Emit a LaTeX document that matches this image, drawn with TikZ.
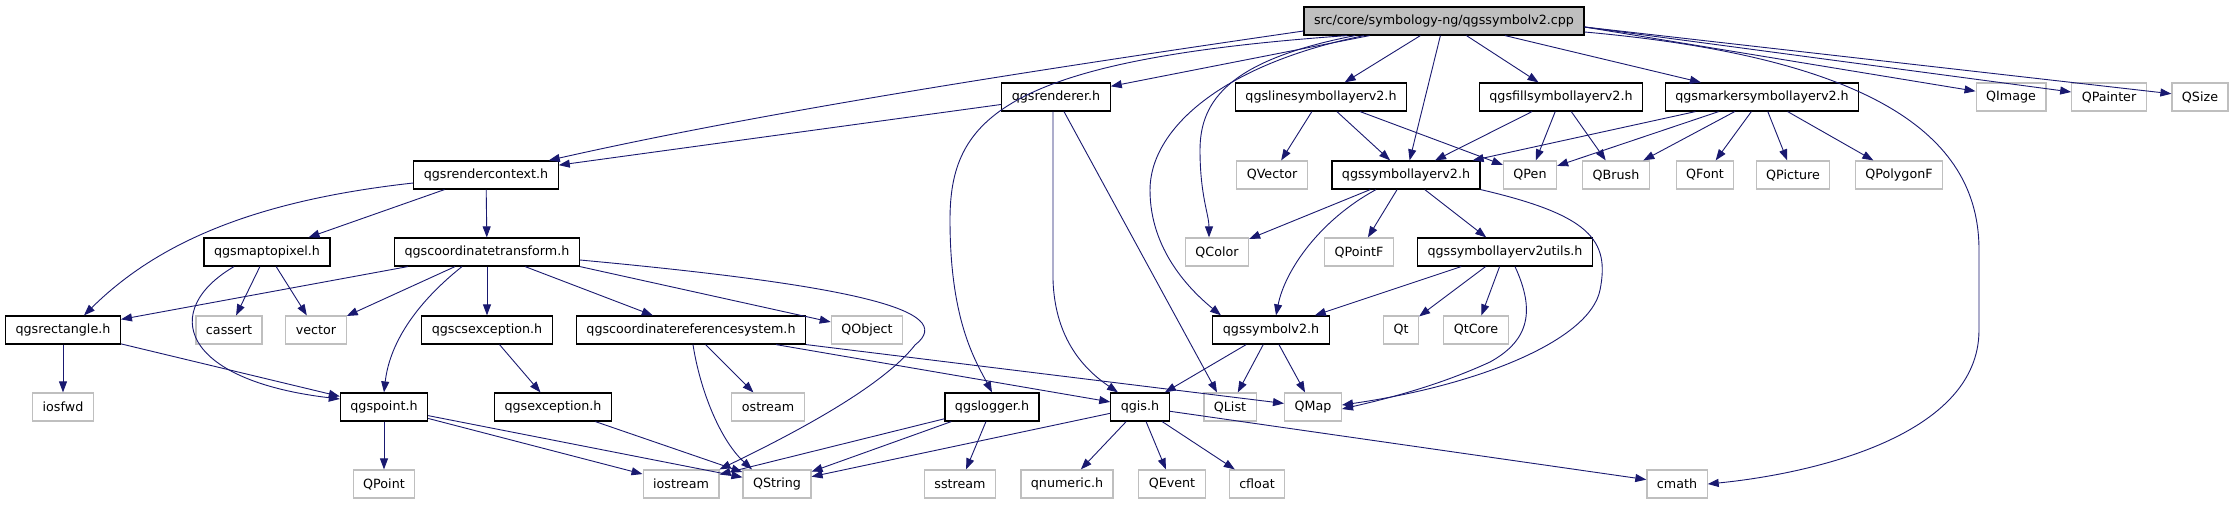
\documentclass[tikz,border=0pt]{standalone}
\usepackage{fontspec}
\setmainfont{DejaVu Sans}
\usepackage{xcolor}
\usepackage{tikz}
\usetikzlibrary{arrows.meta}
\definecolor{edgeblue}{RGB}{25, 25, 112}
\definecolor{extgray}{RGB}{191, 191, 191}

\begin{document}
\begin{tikzpicture}[x=1pt, y=-1pt,
    every node/.style={font=\fontsize{12.7}{14}\selectfont, minimum height=28pt, inner xsep=10pt, inner ysep=0pt},
    rootnode/.style={draw=black, line width=1.2pt, fill=extgray},
    docnode/.style={draw=black, line width=1.2pt, fill=white},
    extnode/.style={draw=extgray, line width=1.2pt, fill=white},
    dep/.style={draw=edgeblue, line width=0.9pt, -{Triangle[length=11pt, width=8pt]}}]
    \fill[white] (0,0) rectangle (2235,504);
    \useasboundingbox (0,0) rectangle (2235,504);

    % Row 1
    \node[rootnode] (cpp) at (1444,21) {src/core/symbology-ng/qgssymbolv2.cpp};

    % Row 2
    \node[docnode] (renderer) at (1056,97) {qgsrenderer.h};
    \node[docnode] (linesl) at (1321,97) {qgslinesymbollayerv2.h};
    \node[docnode] (fillsl) at (1561,97) {qgsfillsymbollayerv2.h};
    \node[docnode] (markersl) at (1762,97) {qgsmarkersymbollayerv2.h};
    \node[extnode] (qimage) at (2011,97) {QImage};
    \node[extnode] (qpainter) at (2109,97) {QPainter};
    \node[extnode] (qsize) at (2200,97) {QSize};

    % Row 3
    \node[docnode] (renderctx) at (486,175) {qgsrendercontext.h};
    \node[extnode] (qvector) at (1272,175) {QVector};
    \node[docnode] (symlayer) at (1406,175) {qgssymbollayerv2.h};
    \node[extnode] (qpen) at (1530,175) {QPen};
    \node[extnode] (qbrush) at (1616,175) {QBrush};
    \node[extnode] (qfont) at (1705,175) {QFont};
    \node[extnode] (qpicture) at (1793,175) {QPicture};
    \node[extnode] (qpolygonf) at (1899,175) {QPolygonF};

    % Row 4
    \node[docnode] (maptopixel) at (267,252) {qgsmaptopixel.h};
    \node[docnode] (coordtf) at (487,252) {qgscoordinatetransform.h};
    \node[extnode] (qcolor) at (1217,252) {QColor};
    \node[extnode] (qpointf) at (1359,252) {QPointF};
    \node[docnode] (symutils) at (1505,252) {qgssymbollayerv2utils.h};

    % Row 5
    \node[docnode] (rect) at (63,330) {qgsrectangle.h};
    \node[extnode] (cassert) at (229,330) {cassert};
    \node[extnode] (vector) at (316,330) {vector};
    \node[docnode] (csexc) at (487,330) {qgscsexception.h};
    \node[docnode] (crs) at (691,330) {qgscoordinatereferencesystem.h};
    \node[extnode] (qobject) at (867,330) {QObject};
    \node[docnode] (symbolv2) at (1271,330) {qgssymbolv2.h};
    \node[extnode] (qt) at (1401,330) {Qt};
    \node[extnode] (qtcore) at (1476,330) {QtCore};

    % Row 6
    \node[extnode] (iosfwd) at (63,407) {iosfwd};
    \node[docnode] (point) at (384,407) {qgspoint.h};
    \node[docnode] (exception) at (553,407) {qgsexception.h};
    \node[extnode] (ostream) at (768,407) {ostream};
    \node[docnode] (logger) at (992,407) {qgslogger.h};
    \node[docnode] (qgis) at (1140,407) {qgis.h};
    \node[extnode] (qlist) at (1230,407) {QList};
    \node[extnode] (qmap) at (1313,407) {QMap};

    % Row 7
    \node[extnode] (qpoint) at (384,484) {QPoint};
    \node[extnode] (iostream) at (681,484) {iostream};
    \node[extnode] (qstring) at (777,484) {QString};
    \node[extnode] (sstream) at (960,484) {sstream};
    \node[extnode] (qnumeric) at (1067,484) {qnumeric.h};
    \node[extnode] (qevent) at (1172,484) {QEvent};
    \node[extnode] (cfloat) at (1257,484) {cfloat};
    \node[extnode] (cmath) at (1677,484) {cmath};

    % Straight includes
    \foreach \a/\b in {cpp/renderer, cpp/linesl, cpp/symlayer, cpp/fillsl, cpp/markersl,
        renderer/renderctx, renderctx/maptopixel, renderctx/coordtf,
        maptopixel/cassert, maptopixel/vector,
        coordtf/rect, coordtf/vector, coordtf/csexc, coordtf/crs,
        rect/iosfwd, rect/point, csexc/exception, exception/qstring,
        point/qpoint, point/iostream, point/qstring,
        crs/ostream, crs/qgis,
        logger/iostream, logger/qstring, logger/sstream,
        qgis/qstring, qgis/qnumeric, qgis/qevent, qgis/cfloat, qgis/cmath,
        linesl/qvector, linesl/symlayer, linesl/qpen,
        fillsl/symlayer, fillsl/qpen, fillsl/qbrush,
        markersl/symlayer, markersl/qpen, markersl/qbrush, markersl/qfont, markersl/qpicture, markersl/qpolygonf,
        symlayer/qcolor, symlayer/qpointf, symlayer/symutils,
        symutils/symbolv2, symutils/qt, symutils/qtcore,
        symbolv2/qgis, symbolv2/qlist, symbolv2/qmap} {
        \draw[dep] (\a) -- (\b);
    }

    % Includes leaving the root at its sides
    \draw[dep] ([yshift=-10pt]cpp.west) .. controls (1000,75) and (750,115) .. ([xshift=-10pt]renderctx.north east);
    \draw[dep] ([yshift=-6pt]cpp.east) -- (qimage);
    \draw[dep] ([yshift=-6pt]cpp.east) -- (qpainter);
    \draw[dep] ([yshift=-6pt]cpp.east) -- (qsize);
    \draw[dep] ([yshift=-11pt]cpp.east) .. controls (1900,60) and (1979,150) .. (1979,250)
        -- (1979,330) .. controls (1979,440) and (1800,475) .. (cmath.east);

    % Curved includes
    \draw[dep] ([xshift=-97pt]cpp.south) .. controls (1000,60) and (950,120) .. (950,220)
        .. controls (950,320) and (975,360) .. (logger.north);
    \draw[dep] ([xshift=-89pt]cpp.south) .. controls (1230,60) and (1200,100) .. (1200,150)
        .. controls (1200,195) and (1209,215) .. ([xshift=-8pt]qcolor.north);
    \draw[dep] ([xshift=-80pt]cpp.south) .. controls (1220,65) and (1150,130) .. (1150,190)
        .. controls (1150,250) and (1190,290) .. ([xshift=-50pt]symbolv2.north);
    \draw[dep] ([xshift=-3pt]renderer.south) -- (1053,280)
        .. controls (1055,340) and (1085,370) .. ([xshift=-22pt]qgis.north);
    \draw[dep] ([xshift=8pt]renderer.south) -- ([xshift=-13pt]qlist.north);
    \draw[dep] ([yshift=-8pt]renderctx.west) .. controls (260,200) and (160,240) .. ([xshift=21pt]rect.north);
    \draw[dep] ([xshift=-33pt]maptopixel.south) .. controls (160,310) and (180,380) .. ([yshift=8pt]point.west);
    \draw[dep] ([xshift=-25pt]coordtf.south) .. controls (420,300) and (390,340) .. (point.north);
    \draw[dep] (coordtf.south east) -- (qobject);
    \draw[dep] ([yshift=-8pt]coordtf.east) .. controls (850,285) and (960,310) .. (915,345)
        .. controls (880,390) and (780,440) .. (iostream.north east);
    \draw[dep] ([xshift=2pt]crs.south) .. controls (700,390) and (720,440) .. ([xshift=-25pt]qstring.north);
    \draw[dep] (crs.south east) -- (qmap);
    \draw[dep] ([xshift=-30pt]symlayer.south) .. controls (1320,220) and (1285,270) .. ([xshift=5pt]symbolv2.north);
    \draw[dep] (symlayer.south east) .. controls (1590,215) and (1610,240) .. (1600,290)
        .. controls (1590,340) and (1480,385) .. ([yshift=2pt]qmap.east);
    \draw[dep] ([xshift=10pt]symutils.south) .. controls (1535,310) and (1530,340) .. (1490,362)
        .. controls (1440,385) and (1390,398) .. ([yshift=-2pt]qmap.east);
\end{tikzpicture}
\end{document}
